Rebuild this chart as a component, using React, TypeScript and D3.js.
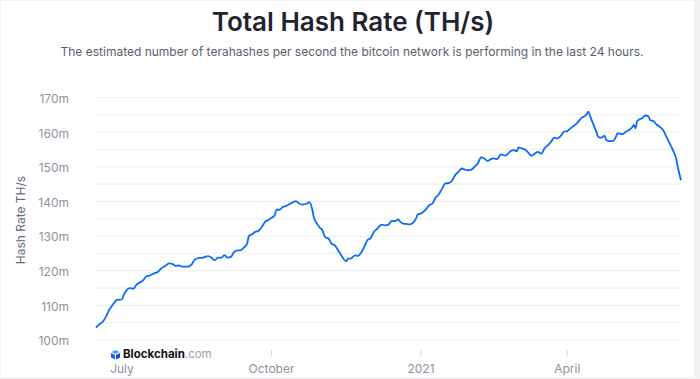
import React from "react";
import * as d3 from "d3";

const dates: string[] = [
  "2020-06-15","2020-06-17","2020-06-19","2020-06-21","2020-06-23","2020-06-25","2020-06-28","2020-07-01","2020-07-02","2020-07-04",
  "2020-07-06","2020-07-08","2020-07-10","2020-07-12","2020-07-14","2020-07-16","2020-07-18","2020-07-21","2020-07-23","2020-07-25",
  "2020-07-28","2020-07-30","2020-08-01","2020-08-03","2020-08-05","2020-08-07","2020-08-09","2020-08-11","2020-08-13","2020-08-15",
  "2020-08-18","2020-08-19","2020-08-21","2020-08-23","2020-08-25","2020-08-27","2020-08-29","2020-08-31","2020-09-02","2020-09-04",
  "2020-09-06","2020-09-08","2020-09-10","2020-09-12","2020-09-14","2020-09-16","2020-09-17","2020-09-19","2020-09-21","2020-09-23",
  "2020-09-25","2020-09-27","2020-09-29","2020-10-01","2020-10-03","2020-10-04","2020-10-06","2020-10-08","2020-10-10","2020-10-12",
  "2020-10-14","2020-10-16","2020-10-18","2020-10-20","2020-10-23","2020-10-24","2020-10-26","2020-10-27","2020-10-29","2020-10-31",
  "2020-11-01","2020-11-03","2020-11-05","2020-11-07","2020-11-09","2020-11-11","2020-11-13","2020-11-16","2020-11-17","2020-11-19",
  "2020-11-20","2020-11-22","2020-11-23","2020-11-25","2020-11-27","2020-11-29","2020-12-01","2020-12-03","2020-12-05","2020-12-07",
  "2020-12-08","2020-12-10","2020-12-12","2020-12-14","2020-12-16","2020-12-18","2020-12-19","2020-12-21","2020-12-23","2020-12-25",
  "2020-12-27","2020-12-29","2020-12-30","2021-01-01","2021-01-04","2021-01-06","2021-01-08","2021-01-10","2021-01-12","2021-01-14",
  "2021-01-16","2021-01-18","2021-01-20","2021-01-22","2021-01-24","2021-01-26","2021-01-28","2021-01-30","2021-02-01","2021-02-03",
  "2021-02-05","2021-02-07","2021-02-09","2021-02-11","2021-02-13","2021-02-15","2021-02-17","2021-02-19","2021-02-22","2021-02-24",
  "2021-02-25","2021-02-27","2021-03-01","2021-03-02","2021-03-04","2021-03-06","2021-03-08","2021-03-10","2021-03-12","2021-03-14",
  "2021-03-16","2021-03-18","2021-03-20","2021-03-22","2021-03-24","2021-03-26","2021-03-28","2021-03-30","2021-04-01","2021-04-03",
  "2021-04-05","2021-04-07","2021-04-10","2021-04-12","2021-04-13","2021-04-14","2021-04-15","2021-04-17","2021-04-19","2021-04-20",
  "2021-04-22","2021-04-24","2021-04-25","2021-04-27","2021-04-29","2021-05-01","2021-05-02","2021-05-05","2021-05-07","2021-05-09",
  "2021-05-11","2021-05-12","2021-05-13","2021-05-14","2021-05-16","2021-05-17","2021-05-19","2021-05-21","2021-05-22","2021-05-24",
  "2021-05-26","2021-05-28","2021-05-30","2021-06-01","2021-06-03","2021-06-05","2021-06-07","2021-06-08","2021-06-10"
];

// Hash rate in millions of TH/s
const hashRate: number[] = [
  103.6,104.5,105.2,106.6,108.6,110.0,111.6,111.7,112.9,114.5,
  115.0,114.8,116.0,116.6,117.2,118.4,118.6,119.3,119.6,120.6,
  121.5,122.1,122.0,121.4,121.5,121.2,121.2,121.2,121.9,123.3,
  123.7,123.7,124.0,124.2,123.8,123.0,123.8,123.7,124.5,123.8,
  124.0,125.4,125.9,125.9,126.7,127.8,129.9,130.5,131.2,131.5,
  132.6,134.1,134.6,135.3,136.0,137.6,137.6,138.4,138.7,139.2,
  139.7,140.1,139.4,139.1,139.4,139.8,137.9,135.5,133.6,132.3,
  132.0,129.7,129.3,127.8,127.3,125.9,124.4,122.7,123.5,123.5,
  124.0,124.4,124.2,125.1,126.8,128.8,129.4,131.2,132.1,133.1,
  133.3,133.1,133.3,134.4,134.3,134.8,134.3,133.6,133.5,133.4,
  133.8,135.1,136.2,136.5,137.7,138.9,139.4,141.1,142.1,143.7,
  145.2,145.3,145.9,147.6,148.5,149.5,149.2,149.0,149.2,150.0,
  151.0,152.7,152.4,151.7,152.2,152.4,152.2,153.6,153.2,154.0,
  154.5,154.8,154.5,155.6,155.3,155.0,154.1,153.2,153.8,154.3,
  153.8,155.3,156.2,157.2,158.4,158.2,158.9,160.1,160.3,161.1,
  161.8,162.6,164.2,164.7,165.2,165.9,164.7,162.3,160.0,158.7,
  158.4,159.0,157.7,157.4,157.4,158.7,159.7,159.4,160.1,160.6,
  161.4,162.1,161.1,163.2,163.8,164.0,164.8,164.5,163.5,163.2,
  162.2,161.5,160.6,158.7,156.8,154.8,152.4,150.0,146.1
];

const yTicks: number[] = [100, 110, 120, 130, 140, 150, 160, 170];
const yGrid: number[] = [100, 105, 110, 115, 120, 125, 130, 135, 140, 145, 150, 155, 160, 165, 170];
const xTickDates: string[] = ["2020-07-01", "2020-10-01", "2021-01-01", "2021-04-01"];
const xTickLabels: string[] = ["July", "October", "2021", "April"];

const W = 700;
const H = 379;
const FONT = "Inter, 'Noto Sans', sans-serif";

export default function App() {
  const parse = d3.utcParse("%Y-%m-%d");
  const data = dates.map((d, i) => ({ date: parse(d) as Date, value: hashRate[i] }));

  const x = d3
    .scaleUtc()
    .domain(d3.extent(data, (d) => d.date) as [Date, Date])
    .range([96, 681]);
  const y = d3.scaleLinear().domain([100, 170]).range([340, 97.5]);

  const line = d3
    .line<{ date: Date; value: number }>()
    .x((d) => x(d.date))
    .y((d) => y(d.value))
    .curve(d3.curveMonotoneX);

  return (
    <svg
      width={W}
      height={H}
      style={{ position: "absolute", left: 0, top: 0, display: "block" }}
      fontFamily={FONT}
    >
      <rect x={0} y={0} width={W} height={H} fill="#f1f2f4" />
      <rect x={1} y={1} width={693} height={376} fill="#ffffff" />

      <text x={353} y={31} textAnchor="middle" fontSize={26} fontWeight={600} fill="#1f2430">
        Total Hash Rate (TH/s)
      </text>
      <text x={352} y={56} textAnchor="middle" fontSize={12} fill="#59606d">
        The estimated number of terahashes per second the bitcoin network is performing in the last 24 hours.
      </text>

      <g>
        {yGrid.map((v) => (
          <line key={v} x1={96} x2={681} y1={y(v)} y2={y(v)} stroke="#eef0f3" strokeWidth={1.2} />
        ))}
      </g>

      <g>
        {yTicks.map((v) => (
          <text key={v} x={69} y={y(v)} dy="0.45em" textAnchor="end" fontSize={12} fill="#8c93a0">
            {`${v}m`}
          </text>
        ))}
      </g>

      <text
        transform={`translate(25,220) rotate(-90)`}
        textAnchor="middle"
        fontSize={12}
        fill="#646c7a"
      >
        Hash Rate TH/s
      </text>

      <g>
        {xTickDates.map((d, i) => {
          const px = x(parse(d) as Date);
          return (
            <g key={d}>
              <line x1={px} x2={px} y1={350} y2={356} stroke="#d3d6db" strokeWidth={1} />
              <text x={px} y={373} textAnchor="middle" fontSize={12} fill="#8c93a0">
                {xTickLabels[i]}
              </text>
            </g>
          );
        })}
      </g>

      <path d={line(data) || ""} fill="none" stroke="#0b6cf3" strokeWidth={1.8} strokeLinejoin="round" />

      <g transform="translate(110,346)">
        <rect x={0} y={0} width={98} height={16} fill="#ffffff" />
        <polygon points="5.5,4 9.5,6 5.5,8 1.5,6" fill="#4a9bff" />
        <polygon points="1,7 5,9 5,13.5 1,11.5" fill="#1565f0" />
        <polygon points="10,7 6,9 6,13.5 10,11.5" fill="#0b4fd1" />
        <text x={13} y={12.3} fontSize={11.5} fontWeight={700} fill="#111111">
          Blockchain
          <tspan fontWeight={400} fill="#9aa0aa">.com</tspan>
        </text>
      </g>
    </svg>
  );
}
